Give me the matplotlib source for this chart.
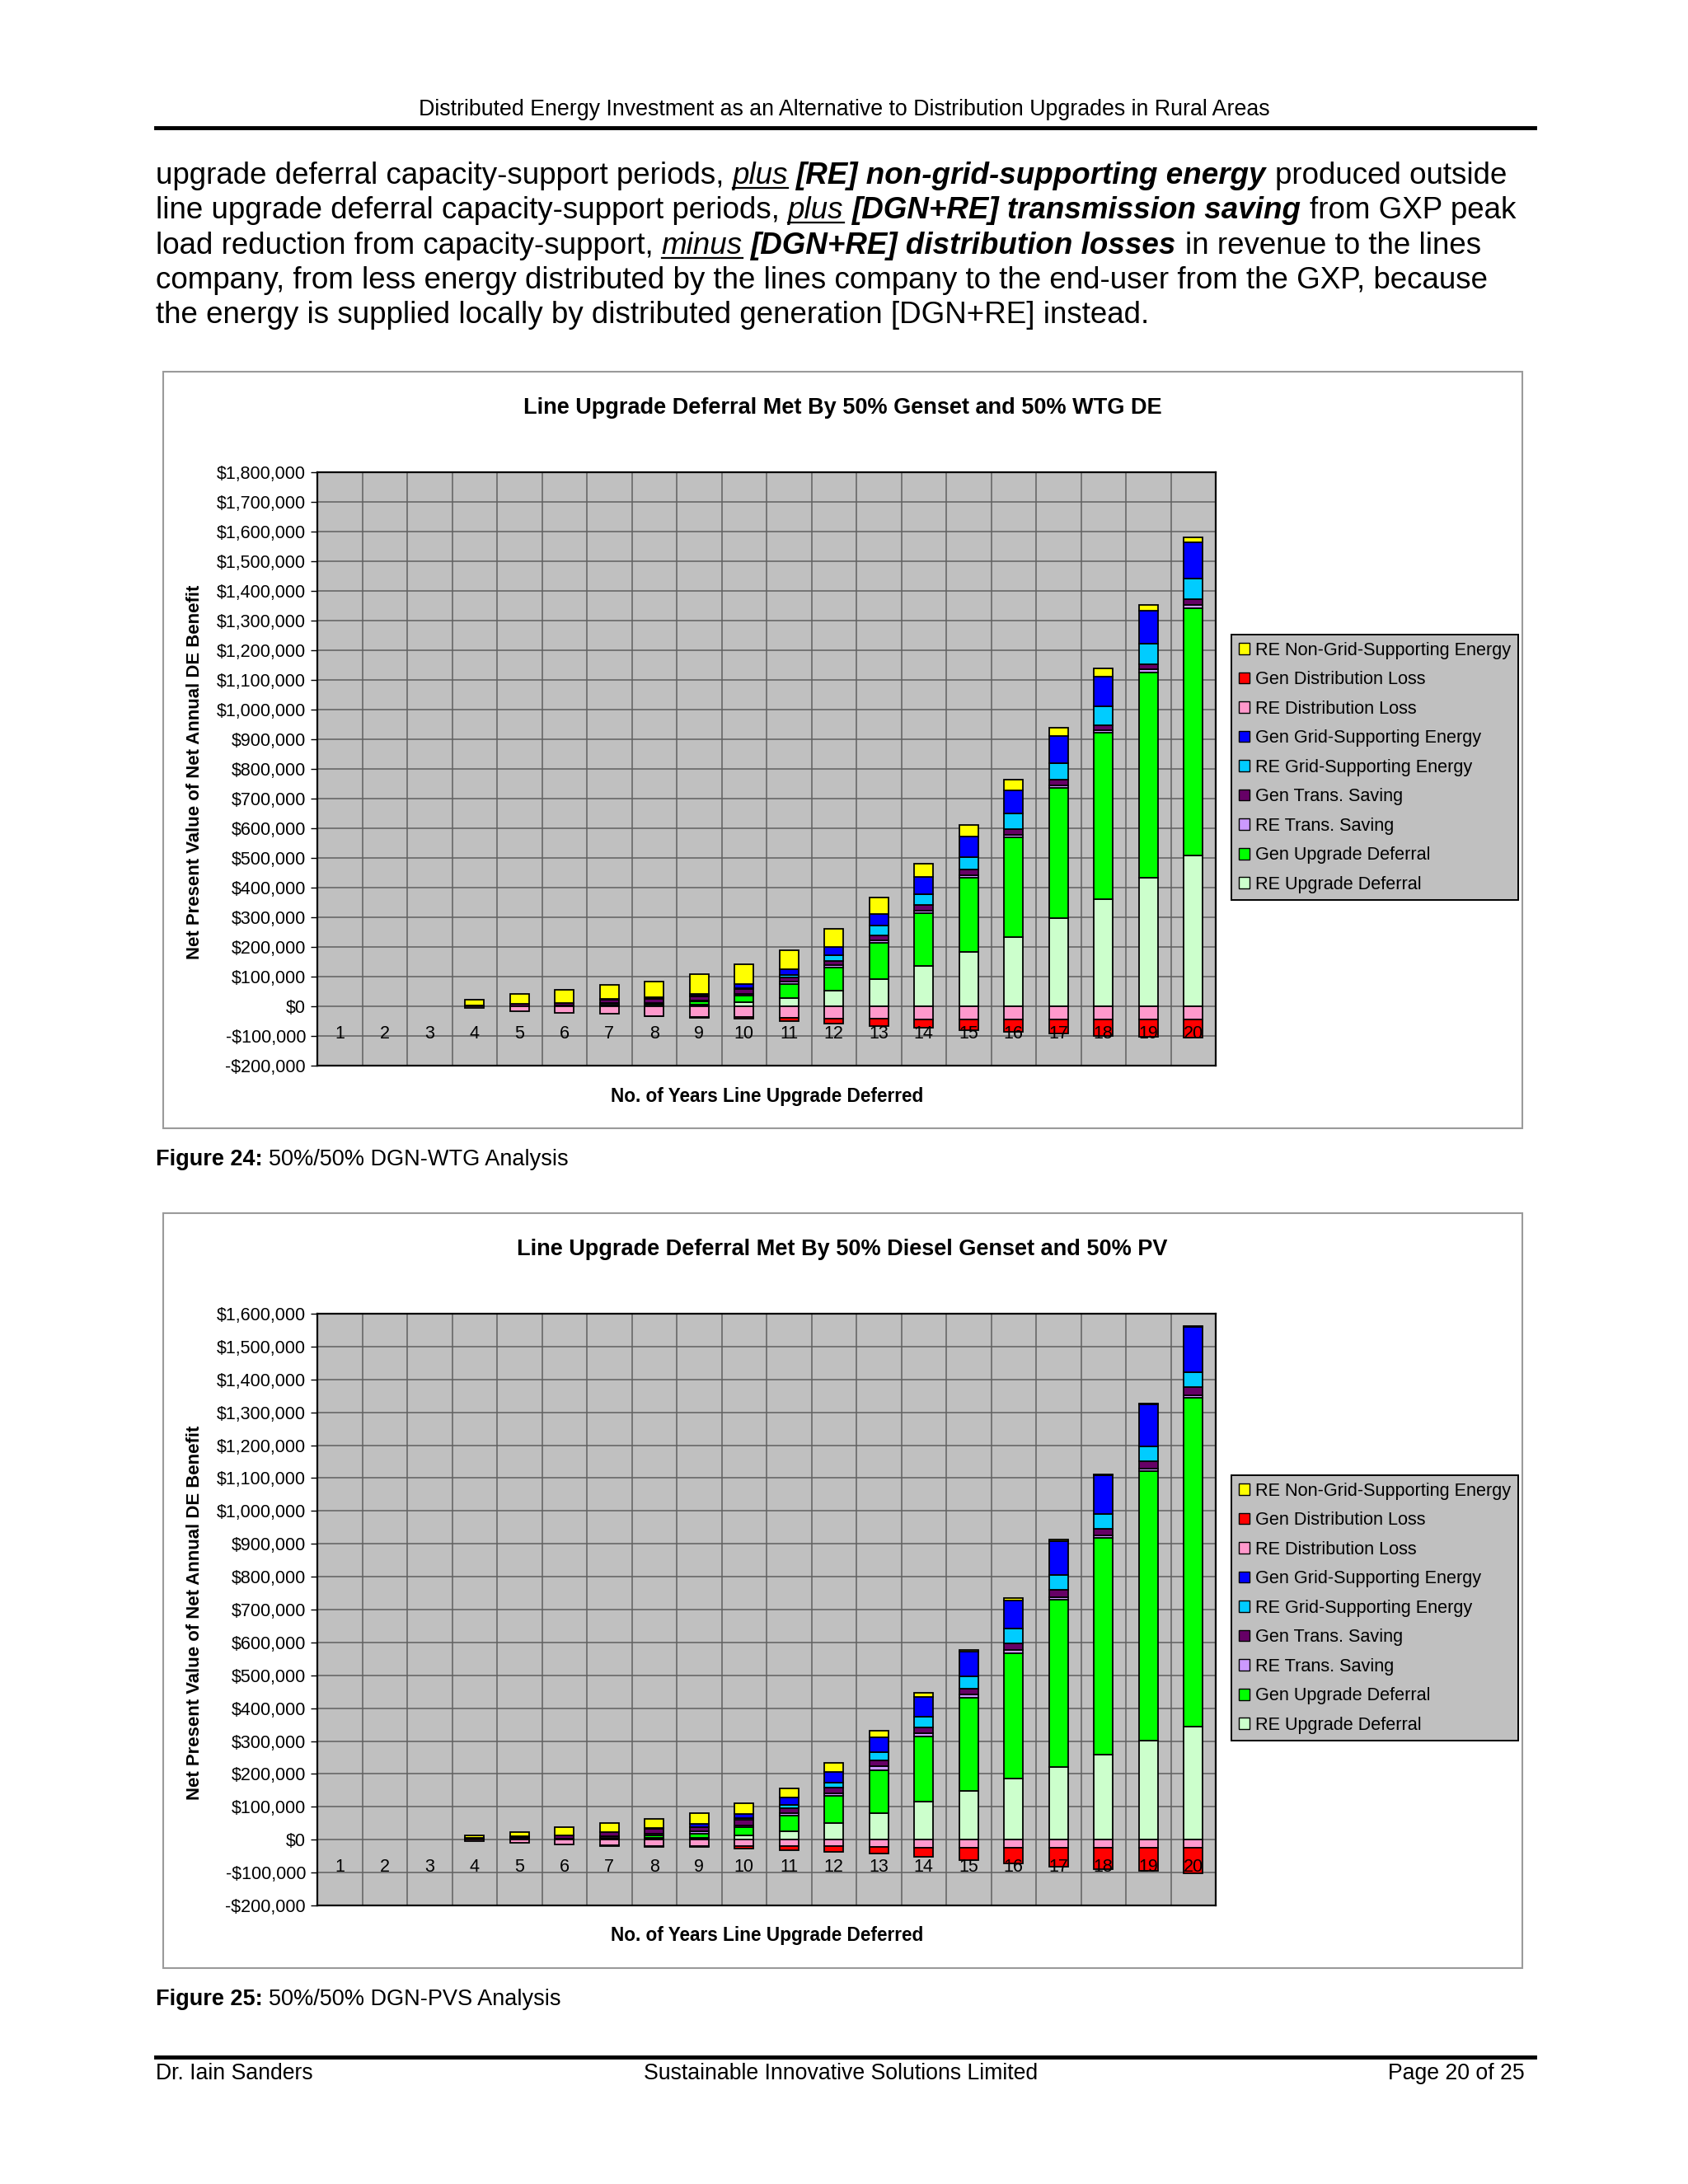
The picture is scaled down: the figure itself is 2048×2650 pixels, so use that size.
import matplotlib
matplotlib.use("Agg")
import numpy as np
import matplotlib.pyplot as plt
from matplotlib.patches import Rectangle, Patch
from matplotlib.lines import Line2D
from matplotlib.ticker import MultipleLocator, FuncFormatter
import matplotlib.transforms as mtransforms

plt.rcParams['font.family'] = ['Liberation Sans', 'DejaVu Sans']

# ---- data (thousands of $), years 1..20 ----
years = np.arange(1, 21)

# Figure 24: 50% genset + 50% WTG
wtg_re_upgrade = [0, 0, 0, 0, 0, 0, 3, 3, 6, 14, 28, 54, 93, 136, 182, 234, 297, 361, 434, 509]
wtg_gen_upgrade = [0, 0, 0, 0, 0, 0, 3, 4, 10, 21, 46, 76, 121, 177, 251, 335, 439, 560, 690, 834]
wtg_re_trans = [0, 0, 0, 1, 1, 2, 4, 5, 4, 7, 9, 8, 8, 8, 9, 9, 9, 9, 12, 10]
wtg_gen_trans = [0, 0, 0, 3, 6, 9, 12, 14, 14, 15, 15, 16, 16, 20, 18, 18, 18, 18, 16, 20]
wtg_re_grid = [0, 0, 0, 0, 0, 0, 0, 1, 1, 4, 8, 18, 34, 38, 42, 55, 57, 63, 69, 70]
wtg_gen_grid = [0, 0, 0, 0, 0, 1, 2, 3, 8, 14, 18, 28, 39, 57, 69, 76, 92, 100, 113, 120]
wtg_re_dist = [0, 0, 0, -6, -18, -22, -26, -32, -36, -37, -39, -43, -42, -45, -45, -45, -45, -45, -45, -45]
wtg_gen_dist = [0, 0, 0, 0, 0, 0, 0, -1, -3, -5, -10, -16, -24, -28, -36, -40, -48, -55, -58, -60]
wtg_re_nongrid = [0, 0, 0, 18, 34, 43, 47, 54, 65, 66, 65, 62, 56, 45, 40, 36, 27, 27, 20, 18]

# Figure 25: 50% diesel genset + 50% PV
pv_re_upgrade = [0, 0, 0, 0, 0, 0, 3, 5, 5, 13, 25, 51, 80, 116, 149, 187, 221, 260, 301, 343]
pv_gen_upgrade = [0, 0, 0, 0, 0, 1, 3, 8, 14, 24, 49, 82, 132, 199, 284, 381, 508, 657, 819, 1002]
pv_re_trans = [0, 0, 0, 1, 2, 2, 4, 5, 6, 6, 8, 8, 12, 8, 8, 9, 9, 8, 8, 8]
pv_gen_trans = [0, 0, 0, 4, 7, 10, 12, 15, 13, 17, 15, 17, 18, 18, 18, 21, 21, 21, 24, 24]
pv_re_grid = [0, 0, 0, 0, 0, 0, 0, 0, 1, 5, 8, 16, 24, 33, 38, 44, 47, 46, 45, 45]
pv_gen_grid = [0, 0, 0, 0, 1, 1, 2, 2, 9, 14, 23, 31, 45, 61, 74, 85, 103, 116, 128, 139]
pv_re_dist = [0, 0, 0, -5, -10, -14, -18, -19, -19, -20, -19, -19, -22, -24, -25, -25, -25, -25, -25, -24]
pv_gen_dist = [0, 0, 0, 0, 0, 0, -1, -2, -4, -7, -14, -17, -20, -27, -38, -47, -56, -65, -69, -79]
pv_re_nongrid = [0, 0, 0, 7, 14, 25, 26, 28, 34, 33, 29, 29, 20, 12, 6, 7, 3, 3, 2, 2]

# stacking order (bottom to top), legend shows it reversed
series_names = ['RE Upgrade Deferral', 'Gen Upgrade Deferral', 'RE Trans. Saving',
                'Gen Trans. Saving', 'RE Grid-Supporting Energy', 'Gen Grid-Supporting Energy',
                'RE Distribution Loss', 'Gen Distribution Loss', 'RE Non-Grid-Supporting Energy']
series_colors = ['#CCFFCC', '#00FF00', '#CC99FF', '#660066', '#00CCFF', '#0000FF',
                 '#FF99CC', '#FF0000', '#FFFF00']

wtg = [wtg_re_upgrade, wtg_gen_upgrade, wtg_re_trans, wtg_gen_trans, wtg_re_grid,
       wtg_gen_grid, wtg_re_dist, wtg_gen_dist, wtg_re_nongrid]
pv = [pv_re_upgrade, pv_gen_upgrade, pv_re_trans, pv_gen_trans, pv_re_grid,
      pv_gen_grid, pv_re_dist, pv_gen_dist, pv_re_nongrid]

W, H = 2048, 2650
fig = plt.figure(figsize=(W / 100, H / 100), dpi=100)
renderer = fig.canvas.get_renderer()


def fx(px):
    return px / W


def fy(py):
    return 1 - py / H


def hline(x0, x1, y, lw, color='black'):
    fig.add_artist(Line2D([fx(x0), fx(x1)], [fy(y), fy(y)], lw=lw, color=color,
                          transform=fig.transFigure))


def write_runs(x_px, y_px, runs, size):
    # runs of (text, style) separated by a space; style: b=bold, i=italic, u=underline
    sp = fig.text(0, 0, 'a a', fontsize=size)
    sp2 = fig.text(0, 0, 'aa', fontsize=size)
    space = sp.get_window_extent(renderer).width - sp2.get_window_extent(renderer).width
    sp.remove()
    sp2.remove()
    x = x_px
    for k, (txt, sty) in enumerate(runs):
        if k > 0:
            x += space
        t = fig.text(fx(x), fy(y_px), txt, fontsize=size, va='baseline', ha='left',
                     fontweight='bold' if 'b' in sty else 'normal',
                     fontstyle='italic' if 'i' in sty else 'normal')
        bb = t.get_window_extent(renderer)
        if 'u' in sty:
            hline(x, x + bb.width, y_px + 5, 1.6)
        x += bb.width


# ---- page header ----
fig.text(fx(1024), fy(133), 'Distributed Energy Investment as an Alternative to Distribution Upgrades in Rural Areas',
         ha='center', va='center', fontsize=19.3)
hline(189, 1862, 155, 3.5)

body = [
    [('upgrade deferral capacity-support periods,', ''), ('plus', 'iu'),
     ('[RE] non-grid-supporting energy', 'bi'), ('produced outside', '')],
    [('line upgrade deferral capacity-support periods,', ''), ('plus', 'iu'),
     ('[DGN+RE] transmission saving', 'bi'), ('from GXP peak', '')],
    [('load reduction from capacity-support,', ''), ('minus', 'iu'),
     ('[DGN+RE] distribution losses', 'bi'), ('in revenue to the lines', '')],
    [('company, from less energy distributed by the lines company to the end-user from the GXP, because', '')],
    [('the energy is supplied locally by distributed generation [DGN+RE] instead.', '')],
]
for i, runs in enumerate(body):
    write_runs(189, 223 + 42.3 * i, runs, 26.5)


def draw_chart(box, plot, data, ymax, title, legend_top, caption):
    x0, y0, x1, y1 = box
    fig.add_artist(Rectangle((fx(x0), fy(y1)), fx(x1) - fx(x0), fy(y0) - fy(y1),
                             transform=fig.transFigure, fill=False,
                             edgecolor='#9a9a9a', lw=1.5))
    px0, py0, px1, py1 = plot
    ax = fig.add_axes([fx(px0), fy(py1), fx(px1) - fx(px0), fy(py0) - fy(py1)])
    ax.set_facecolor('#C0C0C0')
    pos = np.zeros(len(years))
    neg = np.zeros(len(years))
    handles = []
    for name, col, vals in zip(series_names, series_colors, data):
        v = np.array(vals, dtype=float) * 1000
        m = v != 0
        if (v <= 0).all():
            ax.bar(years[m], v[m], bottom=neg[m], width=0.42, color=col,
                   edgecolor='black', lw=1.3, zorder=3)
            neg += v
        else:
            ax.bar(years[m], v[m], bottom=pos[m], width=0.42, color=col,
                   edgecolor='black', lw=1.3, zorder=3)
            pos += v
        handles.append(Patch(facecolor=col, edgecolor='black', lw=1.0, label=name))

    ax.set_xlim(0.5, 20.5)
    ax.set_ylim(-200000, ymax)
    ax.yaxis.set_major_locator(MultipleLocator(100000))
    ax.yaxis.set_major_formatter(FuncFormatter(
        lambda v, p: ('-$' if v < 0 else '$') + f'{abs(v):,.0f}'))
    ax.set_xticks([])
    ax.set_xticks(np.arange(0.5, 21, 1), minor=True)
    ax.tick_params(axis='x', which='both', length=0)
    ax.tick_params(axis='y', length=6, width=1, pad=4, labelsize=15.5)
    ax.grid(axis='y', which='major', color='#606060', lw=1.1)
    ax.grid(axis='x', which='minor', color='#606060', lw=1.1)
    ax.set_axisbelow(True)
    for s in ax.spines.values():
        s.set_color('black')
        s.set_linewidth(1.6)
    lab_tr = mtransforms.offset_copy(ax.transData, fig=fig, x=0, y=-33, units='dots')
    for yr in years:
        ax.text(yr, 0, str(yr), ha='center', va='center', fontsize=15.5,
                transform=lab_tr, zorder=6)

    fig.text(fx(1022), fy(y0 + 44), title, ha='center', va='center',
             fontsize=19.5, fontweight='bold')
    fig.text(fx(237), fy((py0 + py1) / 2 + 4), 'Net Present Value of Net Annual DE Benefit',
             rotation=90, ha='center', va='center', fontsize=15.9, fontweight='bold')
    fig.text(fx(931), fy(py1 + 37), 'No. of Years Line Upgrade Deferred',
             ha='center', va='center', fontsize=16.3, fontweight='bold')

    leg = fig.legend(handles[::-1], series_names[::-1], loc='upper left',
                     bbox_to_anchor=(fx(1494), fy(legend_top)), bbox_transform=fig.transFigure,
                     fontsize=15.6, frameon=True, fancybox=False, framealpha=1,
                     facecolor='#C0C0C0', edgecolor='black', handlelength=0.6,
                     handleheight=0.6, handletextpad=0.35, labelspacing=0.67,
                     borderpad=0.4, borderaxespad=0)
    leg.get_frame().set_linewidth(1.4)

    write_runs(189, y1 + 45, caption, 19.5)


draw_chart((198, 451, 1847, 1369), (385, 573, 1475, 1293), wtg, 1800000,
           'Line Upgrade Deferral Met By 50% Genset and 50% WTG DE', 770,
           [('Figure 24:', 'b'), ('50%/50% DGN-WTG Analysis', '')])
draw_chart((198, 1472, 1847, 2388), (385, 1594, 1475, 2312), pv, 1600000,
           'Line Upgrade Deferral Met By 50% Diesel Genset and 50% PV', 1790,
           [('Figure 25:', 'b'), ('50%/50% DGN-PVS Analysis', '')])

# ---- footer ----
hline(189, 1862, 2496, 3.5)
fig.text(fx(189), fy(2516), 'Dr. Iain Sanders', ha='left', va='center', fontsize=19.2)
fig.text(fx(1020), fy(2516), 'Sustainable Innovative Solutions Limited', ha='center', va='center', fontsize=19.2)
fig.text(fx(1850), fy(2516), 'Page 20 of 25', ha='right', va='center', fontsize=19.2)

fig.savefig('out.png', dpi=100, facecolor='white')
